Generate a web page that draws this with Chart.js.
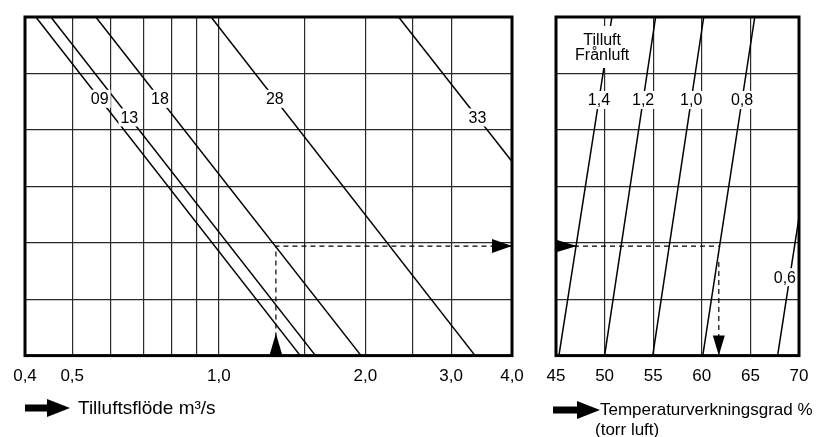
<!DOCTYPE html>
<html>
<head>
<meta charset="utf-8">
<script src="https://cdn.jsdelivr.net/npm/chart.js@4.4.0/dist/chart.umd.min.js"></script>
<style>
    body { margin: 0; background: #fff; width: 821px; height: 437px; position: relative; overflow: hidden;
           font-family: 'Liberation Sans', Arial, sans-serif; color: #000; }
    #flowWrap { position: absolute; left: 0; top: 0; width: 536px; height: 437px; }
    #effWrap { position: absolute; left: 535px; top: 0; width: 286px; height: 437px; }
    .caption { position: absolute; font-size: 17px; line-height: 20px; white-space: nowrap; }
    .pil { position: absolute; }
</style>
</head>
<body>
<div id="flowWrap"><canvas id="flowChart"></canvas></div>
<div id="effWrap"><canvas id="effChart"></canvas></div>

<svg class="pil" style="left:25px;top:399px" width="46" height="18"><polygon points="0,5.5 22,5.5 22,0 45,9 22,18 22,12.5 0,12.5" fill="#000"/></svg>
<div class="caption" style="left:78px;top:397px;font-size:19px;line-height:22px">Tilluftsflöde m³/s</div>

<svg class="pil" style="left:553px;top:401px" width="48" height="18"><polygon points="0,5.5 24,5.5 24,0 47,9 24,18 24,12.5 0,12.5" fill="#000"/></svg>
<div class="caption" style="left:600px;top:400px">Temperaturverkningsgrad %</div>
<div class="caption" style="left:595px;top:420px">(torr luft)</div>

<script>
// --- vänster diagram: tilluftsflöde (log-skala) ---
const flowLineNames = ['09', '13', '18', '28', '33'];
const flowAtTop = [0.421, 0.452, 0.559, 0.964, 2.34];   // flöde där linjen lämnar överkanten (nivå 6)
const flowAtEnd = [1.47, 1.58, 1.96, 3.36, 4.0];        // flöde vid linjens nedre ände
const levelAtEnd = [0, 0, 0, 0, 3.44];
const flowLabelLevel = [4.55, 4.22, 4.55, 4.55, 4.22];
const flowGrid = [0.4, 0.5, 0.6, 0.7, 0.8, 0.9, 1.0, 1.5, 2.0, 2.5, 3.0, 4.0];
const flowTickValues = [0.4, 0.5, 1.0, 2.0, 3.0, 4.0];
const flowTickText = ['0,4', '0,5', '1,0', '2,0', '3,0', '4,0'];

// --- höger diagram: temperaturverkningsgrad ---
const effLineNames = ['1,4', '1,2', '1,0', '0,8', '0,6'];
const effAtBottom = [45.3, 50.0, 54.95, 60.1, 67.8];
const effAtEnd = [50.75, 55.25, 60.2, 65.45, 70.0];
const effLevelAtEnd = [6, 6, 6, 6, 2.45];
const effLabelLevel = [4.53, 4.53, 4.53, 4.53, 1.39];
const effGrid = [45, 50, 55, 60, 65, 70];
const effTickText = ['45', '50', '55', '60', '65', '70'];

// exempel (streckad linje)
const exampleFlow = 1.31;
const exampleLevel = 1.94;
const exampleEff = 61.75;
const exampleEffDrop = 1.66;

const levels = [0, 1, 2, 3, 4, 5, 6];

Chart.defaults.font.family = "'Liberation Sans', Arial, sans-serif";
Chart.defaults.color = '#000';

const GRID = '#2a2a2a';

function lineSet(points) {
    return { data: points, showLine: true, borderColor: '#000', borderWidth: 1.5, pointRadius: 0, fill: false };
}
function dashSet(points) {
    return { data: points, showLine: true, borderColor: '#000', borderWidth: 1.2, borderDash: [5, 4], pointRadius: 0, fill: false };
}

function triangle(ctx, tx, ty, dir, len, half) {
    ctx.beginPath();
    ctx.moveTo(tx, ty);
    if (dir === 'up') { ctx.lineTo(tx - half, ty + len); ctx.lineTo(tx + half, ty + len); }
    if (dir === 'down') { ctx.lineTo(tx - half, ty - len); ctx.lineTo(tx + half, ty - len); }
    if (dir === 'right') { ctx.lineTo(tx - len, ty - half); ctx.lineTo(tx - len, ty + half); }
    ctx.closePath();
    ctx.fillStyle = '#000';
    ctx.fill();
}

function labelBox(ctx, text, x, y, area) {
    ctx.font = "16px 'Liberation Sans', Arial, sans-serif";
    const w = ctx.measureText(text).width;
    x = Math.min(x, area.right - w / 2 - 3);
    ctx.fillStyle = '#fff';
    ctx.fillRect(x - w / 2 - 2, y - 9, w + 4, 18);
    ctx.fillStyle = '#000';
    ctx.textAlign = 'center';
    ctx.textBaseline = 'middle';
    ctx.fillText(text, x, y + 1);
}

// etiketter på linjerna + pilar + kraftig ram
function overlay(names, p0, p1, labelLevels, arrows, extra) {
    return {
        id: 'overlay',
        afterDatasetsDraw(chart) {
            const ctx = chart.ctx, xs = chart.scales.x, ys = chart.scales.y, a = chart.chartArea;
            ctx.save();
            names.forEach((n, i) => {
                const xa = xs.getPixelForValue(p0[i].x), ya = ys.getPixelForValue(p0[i].y);
                const xb = xs.getPixelForValue(p1[i].x), yb = ys.getPixelForValue(p1[i].y);
                const y = ys.getPixelForValue(labelLevels[i]);
                const x = xa + (xb - xa) * (y - ya) / (yb - ya);
                labelBox(ctx, n, x, y, a);
            });
            if (extra) extra(ctx, xs, ys, a);
            arrows(ctx, xs, ys, a);
            ctx.lineWidth = 3;
            ctx.strokeStyle = '#000';
            ctx.strokeRect(a.left, a.top, a.right - a.left, a.bottom - a.top);
            ctx.restore();
        }
    };
}

const flowP0 = flowAtTop.map(v => ({ x: v, y: 6 }));
const flowP1 = flowAtEnd.map((v, i) => ({ x: v, y: levelAtEnd[i] }));

new Chart(document.getElementById('flowChart'), {
    type: 'scatter',
    data: {
        datasets: [
            ...flowLineNames.map((n, i) => lineSet([flowP0[i], flowP1[i]])),
            dashSet([{ x: exampleFlow, y: 0 }, { x: exampleFlow, y: exampleLevel }, { x: 4.0, y: exampleLevel }])
        ]
    },
    options: {
        responsive: true,
        maintainAspectRatio: false,
        animation: false,
        layout: { padding: { left: 25, right: 24, top: 17, bottom: 39 } },
        plugins: { legend: { display: false }, tooltip: { enabled: false } },
        scales: {
            x: {
                type: 'logarithmic', min: 0.4, max: 4.0,
                afterBuildTicks: s => { s.ticks = flowGrid.map(v => ({ value: v })); },
                ticks: {
                    autoSkip: false, maxRotation: 0, padding: 11, font: { size: 17 },
                    callback: v => { const k = flowTickValues.indexOf(v); return k >= 0 ? flowTickText[k] : ''; }
                },
                grid: { color: GRID, lineWidth: 1.2, drawTicks: false },
                border: { display: false }
            },
            y: {
                min: 0, max: 6,
                afterBuildTicks: s => { s.ticks = levels.map(v => ({ value: v })); },
                ticks: { display: false },
                grid: { color: GRID, lineWidth: 1.2, drawTicks: false },
                border: { display: false }
            }
        }
    },
    plugins: [overlay(flowLineNames, flowP0, flowP1, flowLabelLevel, (ctx, xs, ys, a) => {
        triangle(ctx, xs.getPixelForValue(exampleFlow), a.bottom - 22, 'up', 22, 6.5);
        triangle(ctx, a.right, ys.getPixelForValue(exampleLevel), 'right', 20, 7);
    })]
});

const effP0 = effAtBottom.map(v => ({ x: v, y: 0 }));
const effP1 = effAtEnd.map((v, i) => ({ x: v, y: effLevelAtEnd[i] }));

new Chart(document.getElementById('effChart'), {
    type: 'scatter',
    data: {
        datasets: [
            ...effLineNames.map((n, i) => lineSet([effP0[i], effP1[i]])),
            dashSet([{ x: 45, y: exampleLevel }, { x: exampleEff, y: exampleLevel }]),
            dashSet([{ x: exampleEff, y: exampleEffDrop }, { x: exampleEff, y: 0 }])
        ]
    },
    options: {
        responsive: true,
        maintainAspectRatio: false,
        animation: false,
        layout: { padding: { left: 21, right: 22, top: 17, bottom: 39 } },
        plugins: { legend: { display: false }, tooltip: { enabled: false } },
        scales: {
            x: {
                type: 'linear', min: 45, max: 70,
                afterBuildTicks: s => { s.ticks = effGrid.map(v => ({ value: v })); },
                ticks: {
                    autoSkip: false, maxRotation: 0, padding: 11, font: { size: 17 },
                    callback: v => effTickText[effGrid.indexOf(v)]
                },
                grid: { color: GRID, lineWidth: 1.2, drawTicks: false },
                border: { display: false }
            },
            y: {
                min: 0, max: 6,
                afterBuildTicks: s => { s.ticks = levels.map(v => ({ value: v })); },
                ticks: { display: false },
                grid: { color: GRID, lineWidth: 1.2, drawTicks: false },
                border: { display: false }
            }
        }
    },
    plugins: [overlay(effLineNames, effP0, effP1, effLabelLevel, (ctx, xs, ys, a) => {
        triangle(ctx, a.left + 21, ys.getPixelForValue(exampleLevel), 'right', 20, 6);
        triangle(ctx, xs.getPixelForValue(exampleEff), a.bottom, 'down', 20, 6);
    }, (ctx, xs, ys, a) => {
        // rubrik i övre vänstra hörnet
        ctx.font = "16px 'Liberation Sans', Arial, sans-serif";
        const cx = xs.getPixelForValue(49.75);
        const w = ctx.measureText('Frånluft').width;
        ctx.fillStyle = '#fff';
        ctx.fillRect(cx - w / 2 - 2, a.top + 9, w + 4, 42);
        ctx.fillStyle = '#000';
        ctx.textAlign = 'center';
        ctx.textBaseline = 'middle';
        ctx.fillText('Tilluft', cx, ys.getPixelForValue(5.59));
        ctx.fillText('Frånluft', cx, ys.getPixelForValue(5.31));
    })]
});
</script>
</body>
</html>
